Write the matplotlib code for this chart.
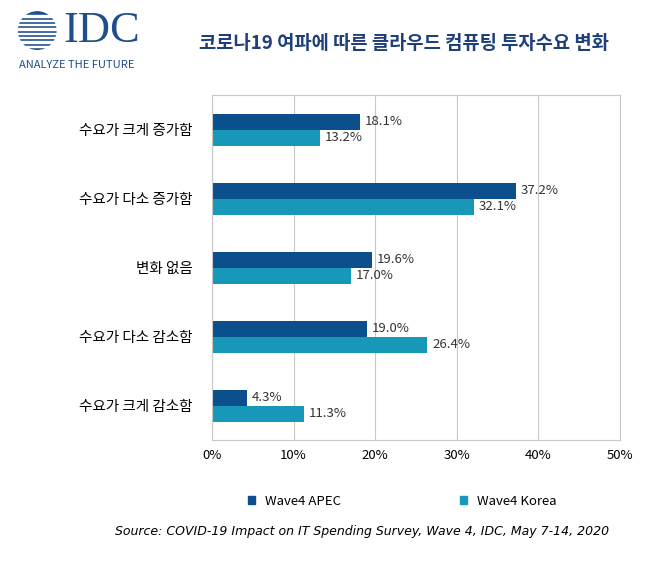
import matplotlib.pyplot as plt
import numpy as np
from matplotlib.patches import Circle, Rectangle

plt.rcParams['font.family'] = ['Noto Sans CJK KR', 'DejaVu Sans']

categories = ["수요가 크게 증가함", "수요가 다소 증가함", "변화 없음", "수요가 다소 감소함", "수요가 크게 감소함"]
apec = [18.1, 37.2, 19.6, 19.0, 4.3]
korea = [13.2, 32.1, 17.0, 26.4, 11.3]
series_names = ["Wave4 APEC", "Wave4 Korea"]
c_apec = "#0B4F8C"
c_korea = "#1798B8"

fig = plt.figure(figsize=(6.71, 5.63), dpi=100)
ax = fig.add_axes([0.316, 0.218, 0.608, 0.613])

y = np.arange(len(categories))
h = 0.23
ax.barh(y - h / 2, apec, height=h, color=c_apec)
ax.barh(y + h / 2, korea, height=h, color=c_korea)
for i in range(len(categories)):
    ax.text(apec[i] + 0.6, y[i] - h / 2, f"{apec[i]:.1f}%", va="center", fontsize=9.5, color="#333333")
    ax.text(korea[i] + 0.6, y[i] + h / 2, f"{korea[i]:.1f}%", va="center", fontsize=9.5, color="#333333")

ax.set_xlim(0, 50)
ax.set_ylim(4.5, -0.5)
ax.set_xticks(range(0, 51, 10))
ax.set_xticklabels([f"{v}%" for v in range(0, 51, 10)], fontsize=9.5)
ax.set_yticks(y)
ax.set_yticklabels(categories, fontsize=10.5)
ax.tick_params(length=0, pad=14)
ax.tick_params(axis="x", pad=6)
ax.grid(axis="x", color="#c8c8c8", lw=0.8)
ax.set_axisbelow(True)
for s in ax.spines.values():
    s.set_color("#c8c8c8")

fig.text(0.296, 0.923, "코로나19 여파에 따른 클라우드 컴퓨팅 투자수요 변화", fontsize=13.5,
         fontweight="bold", color="#1F3F7A", va="center")

# logo
lax = fig.add_axes([0.025, 0.87, 0.25, 0.12])
lax.set_xlim(0, 160)
lax.set_ylim(0, 65)
lax.set_aspect("equal")
lax.axis("off")
circ = Circle((19, 41), 18, color="#1F4E8C")
lax.add_patch(circ)
for k in range(8):
    lax.add_patch(Rectangle((0, 25 + k * 4.2), 38, 1.4, color="white"))
lax.text(44, 41, "IDC", fontsize=32, color="#1F4E8C", va="center", family="Liberation Serif")
lax.text(1, 8, "ANALYZE THE FUTURE", fontsize=8, color="#1F4E8C", va="center")

fig.legend(handles=[Rectangle((0, 0), 1, 1, color=c_apec), Rectangle((0, 0), 1, 1, color=c_korea)],
           labels=series_names, loc="center", bbox_to_anchor=(0.6, 0.11), ncol=2, frameon=False,
           fontsize=9.5, handlelength=0.5, handleheight=0.5, columnspacing=9)
fig.text(0.54, 0.05, "Source: COVID-19 Impact on IT Spending Survey, Wave 4, IDC, May 7-14, 2020",
         fontsize=9, style="italic", ha="center", family="DejaVu Sans")

fig.savefig("out.png", dpi=100)
